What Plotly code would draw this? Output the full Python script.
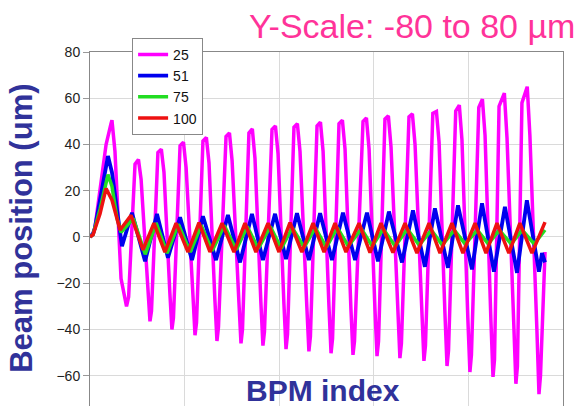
import plotly.graph_objects as go

# ---------------- data ----------------
series_names = ["25", "51", "75", "100"]

x_25 = [0, 1.6, 2.6, 6.9, 8.5, 11.1, 11.6, 13.2, 16.4, 19.3, 20.4,
        23.8, 25.6, 27.0, 30.6, 31.7, 32.5,
        35.9, 37.7, 39.1, 42.2, 43.3, 44.1,
        47.6, 49.4, 50.8, 54.4, 55.5, 56.3,
        59.7, 61.5, 62.9, 66.0, 67.1, 67.9,
        71.9, 73.7, 75.1, 78.7, 79.8, 80.6,
        84.0, 85.8, 87.2, 90.3, 91.4, 92.2,
        96.2, 98.0, 99.4, 102.5, 103.6, 104.4,
        107.8, 109.6, 111.0, 114.6, 115.7, 116.5,
        120.0, 121.8, 123.2, 126.3, 127.4, 128.2,
        131.6, 133.4, 134.8, 137.9, 139.0, 139.8,
        144.3, 146.1, 147.5, 150.6, 151.7, 152.5,
        155.9, 157.7, 159.1, 162.7, 163.8, 164.6,
        168.6, 170.4, 171.8, 175.4, 176.5, 177.3,
        181.2, 183.1, 184.5, 187.6, 188.7, 189.5,
        193.3, 195.2, 196.6, 199.7, 200.8, 201.6,
        205.5, 207.4, 208.8, 211.9, 213.0, 213.8,
        216.2, 219.0, 220.4, 224.0, 225.1, 225.9,
        228.3, 231.1, 232.5, 236.2, 237.3, 238.1,
        240.5]
y_25 = [0, 1, 4, 30, 40, 49, 50.5, 37, -18, -30, -26,
        31.5, 33.5, 25, -22, -36.5, -32,
        36.5, 38, 28, -24, -40, -35,
        39.5, 41, 30, -25, -42.5, -37,
        41.5, 43, 32, -27, -45, -39,
        43.5, 45, 33, -28, -46, -40,
        45, 46.7, 34, -28, -47, -41,
        46.5, 48, 36, -29, -48.5, -42,
        47.5, 49, 37, -30, -49.5, -43,
        48, 49.7, 37, -30, -50.3, -44,
        49, 50.5, 38, -31, -51, -45,
        50, 51.5, 38, -31, -51.5, -45,
        51, 52.4, 39, -31, -52.4, -46,
        52, 53.2, 40, -32, -53.6, -47,
        53.5, 54.3, 41, -33, -55.8, -49,
        54.5, 57, 42, -35, -58.4, -51,
        56, 59.6, 44, -36, -60.5, -53,
        56.5, 62.2, 43, -38, -63.5, -56,
        58, 65, 44, -40, -68, -60,
        -6.5]

x_51 = [0, 1.6, 2.6, 6.9, 9.5, 11.6, 13.7, 15.9, 16.9,
        22.2, 29.1, 35.4, 41.2, 47.6, 53.9, 59.7, 66.6, 72.9, 79.3,
        85.6, 91.4, 97.8, 103.6, 109.4, 115.7, 121.6, 127.9, 133.7, 140.1,
        146.4, 152.2, 158.0, 164.9, 170.7, 177.0, 182.3, 189.2, 194.5, 201.9,
        207.2, 213.5, 219.3, 225.7, 230.9, 237.3, 238.9, 240.5]
y_51 = [0, 1.5, 4, 24, 35, 28, 15, 3, -4,
        10.5, -10.5, 10, -9, 8.5, -10, 9, -10, 9.5, -11,
        10, -10, 10, -9.6, 10.3, -10, 10.3, -10, 10.5, -10,
        10.5, -10.5, 11, -11, 11.5, -12.9, 12.4, -13.3, 13.7, -14,
        14.6, -15, 13, -15.5, 15.9, -15, -7, -11]

x_75 = [0, 1.6, 5.3, 9.5, 11.6, 14.3, 16.4,
        22.9, 29.2, 35.0, 40.8, 46.7, 53.0, 58.8, 64.6, 71.0, 77.3,
        83.1, 88.9, 95.3, 101.1, 106.9, 113.2, 119.1, 124.9, 130.7, 136.5,
        143.4, 149.2, 155.0, 161.3, 167.7, 174.0, 180.4, 186.2, 192.5, 198.3,
        204.7, 210.5, 216.3, 222.6, 228.4, 234.8, 240.5]
y_75 = [0, 1, 12, 27, 22, 8, 2,
        8, -7.5, 6, -7, 5.5, -6.5, 5, -6, 5, -5.5,
        4.5, -5, 4.5, -5, 4, -4.5, 4, -4.5, 4, -4,
        3.5, -4, 3.5, -4, 3.5, -3.5, 3, -3.5, 3, -3,
        3, -3, 3, -3, 3, -3, 3]

x_100 = [0, 1.6, 5.3, 8.5, 11.6, 14.3, 15.9,
         21.7, 28.0, 33.8, 39.6, 45.5, 51.8, 57.6, 63.4, 69.8, 76.1,
         81.9, 87.7, 94.1, 99.9, 105.7, 112.0, 117.9, 123.7, 129.5, 135.3,
         142.2, 148.0, 153.8, 160.1, 166.5, 172.8, 179.2, 185.0, 191.3, 197.1,
         203.5, 209.3, 215.1, 221.4, 227.2, 233.6, 240.5]
y_100 = [0, 1, 10, 21, 16, 7, 3,
         9.4, -5.6, 6, -6.5, 6, -6.5, 6.2, -6.5, 6, -6.5,
         6, -6.5, 6, -6.5, 6.2, -6.5, 6, -6.5, 6, -6.5,
         6, -6.8, 6, -6.8, 6, -7, 6, -7, 6, -7,
         6, -7, 6, -7, 6, -7, 6.4]

y_ticks = [-60, -40, -20, 0, 20, 40, 60, 80]

colors = ["#ff00ff", "#0000ee", "#22dd22", "#ee1111"]
widths = [3.5, 3.8, 3.5, 3.5]

fig = go.Figure()
for name, xs, ys, c, w in zip(series_names, [x_25, x_51, x_75, x_100],
                              [y_25, y_51, y_75, y_100], colors, widths):
    fig.add_trace(go.Scatter(x=xs, y=ys, mode="lines", name=name,
                             line=dict(color=c, width=w)))

fig.update_layout(
    width=585, height=406,
    margin=dict(l=90, r=22, t=52, b=0),
    paper_bgcolor="white", plot_bgcolor="white",
    font=dict(family="Arial, Liberation Sans, sans-serif", color="#222"),
    showlegend=True,
    legend=dict(x=0.089, y=1.04, xanchor="left", yanchor="top",
                bgcolor="white", bordercolor="#888", borderwidth=1,
                font=dict(size=14, color="#111"), tracegroupgap=0),
    xaxis=dict(range=[0, 250], dtick=50, showticklabels=False,
               showgrid=True, gridcolor="#dadada", gridwidth=1,
               showline=True, linecolor="#888", mirror=True,
               zeroline=False, ticks=""),
    yaxis=dict(range=[-73.1, 80], tickvals=y_ticks,
               showgrid=True, gridcolor="#dadada", gridwidth=1,
               showline=True, linecolor="#888", mirror=True,
               zeroline=False, ticks="outside", ticklen=6, tickcolor="#999",
               tickfont=dict(size=14, color="#222")),
    annotations=[
        dict(text="Y-Scale: -80 to 80 \u00b5m", xref="paper", yref="paper",
             x=1.03, y=1.073, xanchor="right", yanchor="middle",
             showarrow=False,
             font=dict(size=34, color="#ff3399",
                       family="Arial, Liberation Sans, sans-serif")),
        dict(text="<b>Beam position (um)</b>", xref="paper", yref="paper",
             x=-0.144, y=0.503, xanchor="center", yanchor="middle",
             textangle=-90, showarrow=False,
             font=dict(size=31, color="#30329a",
                       family="Arial, Liberation Sans, sans-serif")),
        dict(text="<b>BPM index</b>", xref="paper", yref="paper",
             x=0.4926, y=0.045, xanchor="center", yanchor="middle",
             showarrow=False,
             font=dict(size=30, color="#30329a",
                       family="Arial, Liberation Sans, sans-serif")),
    ],
)

fig.write_html("out.html")
